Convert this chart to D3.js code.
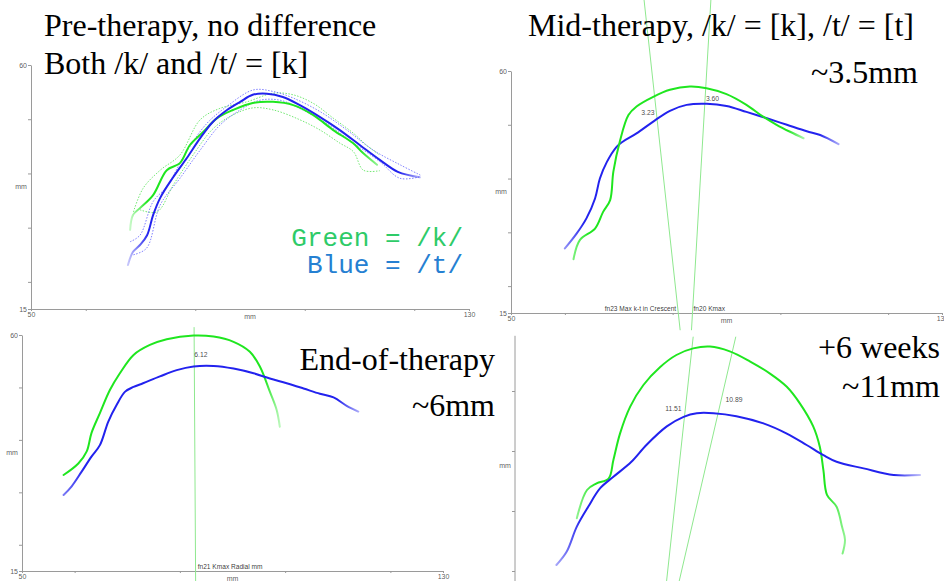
<!DOCTYPE html>
<html>
<head>
<meta charset="utf-8">
<script src="https://cdn.jsdelivr.net/npm/d3@7"></script>
<style>
body { margin: 0; background: #fff; }
svg { display: block; }
.small { fill-opacity: 0.99; }
</style>
</head>
<body>
<div id="chart-area"></div>
<script>
// SVG Size
let width = 944,
	height = 581;

// axis ticks (mm)
const xTicks = [50, 60, 80, 100, 120, 130];
const xTickLabels = [50, 130];
const yTicks = [15, 20, 30, 40, 50, 60];
const yTickLabels = [15, 60];

// panel 1: pre-therapy, mean curves and dotted spread
const p1Green = [[68.1,29.6],[68.6,32.3],[69.9,33.6],[72.3,36.0],[74.8,40.6],[77.2,41.9],[79.0,45.2],[81.4,47.6],[84.0,50.2],[86.9,51.7],[90.5,53.0],[94.2,53.2],[97.9,52.6],[101.5,50.8],[105.2,48.0],[108.8,45.6],[110.6,43.8],[113.2,41.6]];
const p1Blue = [[67.7,23.1],[68.6,25.5],[69.9,26.8],[71.2,28.6],[72.3,32.3],[73.6,35.5],[75.9,39.2],[78.5,42.9],[80.9,46.5],[83.2,49.5],[85.8,51.7],[88.2,53.2],[90.5,54.5],[93.1,54.7],[96.0,54.1],[99.1,52.6],[102.8,50.4],[106.4,48.0],[110.1,45.2],[113.7,42.5],[117.0,40.3],[121.0,39.3]];
const p1GreenHi = [[68.7,32.9],[70.5,37.3],[73.6,40.6],[77.2,43.4],[80.9,49.9],[84.5,52.0],[89.4,53.2],[94.3,54.8],[97.9,54.5],[101.6,52.9],[105.2,50.2],[108.9,47.4],[111.3,45.2],[113.7,43.4]];
const p1GreenLo = [[69.9,33.3],[73.0,32.9],[76.0,37.9],[79.6,43.4],[83.3,48.3],[86.9,50.8],[90.6,52.1],[94.3,51.7],[99.1,49.9],[102.8,48.0],[106.4,45.6],[108.9,44.0],[110.7,40.6],[113.7,40.5]];
const p1BlueHi = [[68.1,27.4],[69.9,28.6],[72.3,34.8],[74.8,37.6],[78.4,44.0],[82.1,49.2],[85.7,52.3],[90.6,55.4],[94.3,55.1],[97.9,53.9],[102.8,51.4],[107.7,48.0],[112.5,44.3],[117.4,41.6],[121.1,39.7]];
const p1BlueLo = [[68.7,25.0],[71.1,26.2],[73.6,34.2],[77.2,39.1],[80.9,44.3],[84.5,48.9],[88.2,51.7],[91.8,53.5],[95.5,53.5],[99.1,52.0],[104.0,49.2],[108.9,45.6],[113.7,42.2],[117.4,39.1],[121.1,39.4]];

// panel 2: mid-therapy
const p2Green = [[61.6,25.0],[62.8,28.6],[65.6,30.7],[67.1,33.8],[68.4,36.0],[69.0,41.3],[70.2,46.9],[71.8,51.8],[73.3,53.4],[76.4,55.2],[79.5,56.5],[83.2,57.1],[86.3,56.8],[90.0,55.7],[93.7,53.7],[96.8,51.5],[99.3,50.0],[101.8,48.7],[104.3,47.5]];
const p2Blue = [[60.0,27.0],[62.2,29.8],[64.0,32.6],[65.6,36.3],[66.5,40.0],[67.8,43.1],[69.6,45.9],[70.8,46.9],[73.3,48.4],[76.4,50.6],[79.5,52.6],[82.6,53.7],[86.3,53.9],[90.0,53.5],[93.7,52.4],[97.5,51.2],[101.2,50.0],[104.9,48.8],[107.4,48.1],[110.8,46.4]];
const p2Lines = [
	{label: "fn23 Max k-t in Crescent", from: [74.7, 73.2], to: [81.4, 11.8]},
	{label: "fn20 Kmax", from: [87.1, 73.2], to: [83.5, 11.8]}
];
const p2Notes = [{text: "3.23", x: 75.4, y: 52.3}, {text: "3.60", x: 87.4, y: 54.9}];

// panel 3: end-of-therapy
const p3Green = [[57.9,33.3],[60.7,35.5],[62.3,37.8],[63.2,41.3],[64.8,45.1],[66.7,49.5],[68.6,52.7],[71.2,56.2],[74.3,58.1],[77.5,59.2],[82.6,59.9],[86.4,59.7],[90.2,58.7],[93.3,56.8],[95.2,54.0],[97.1,49.2],[98.4,45.7],[99.0,42.5]];
const p3Blue = [[57.9,29.5],[59.4,31.1],[61.3,33.9],[63.2,36.8],[64.8,39.0],[66.4,43.5],[68.0,46.7],[69.6,49.2],[71.2,50.1],[73.0,50.8],[76.2,52.1],[79.4,53.3],[82.6,54.0],[86.4,54.1],[90.2,53.6],[94.0,52.7],[97.1,51.7],[100.3,50.8],[103.5,49.8],[106.6,48.8],[109.2,48.1],[111.7,46.5],[113.9,45.4]];
const p3Lines = [{label: "fn21 Kmax Radial mm", from: [82.7, 61.5], to: [83.0, 12.0]}];
const p3Notes = [{text: "6.12", x: 84.0, y: 56.3}];

// panel 4: +6 weeks
const p4Green = [[60.3,28.8],[62.0,33.5],[63.6,34.6],[65.6,35.4],[66.4,38.5],[67.5,42.9],[69.2,47.4],[71.4,51.0],[74.2,54.0],[76.9,56.0],[79.7,57.1],[82.5,57.4],[85.8,56.6],[89.2,54.9],[92.5,52.9],[95.3,50.7],[97.5,47.9],[99.7,44.1],[100.8,40.7],[101.4,36.8],[102.0,32.7],[103.6,30.7],[104.5,27.4],[105.0,25.2],[104.6,22.9]];
const p4Blue = [[56.9,21.0],[58.6,23.2],[60.3,27.4],[62.2,30.7],[64.2,33.8],[66.4,35.7],[69.4,38.2],[71.9,41.0],[75.3,44.1],[78.1,45.7],[80.3,46.3],[83.1,46.3],[86.9,45.8],[91.4,44.6],[95.3,42.9],[98.6,41.0],[101.4,39.3],[103.6,38.2],[108.1,37.1],[113.1,36.0],[117.5,36.0]];
const p4Lines = [{label: "", from: [79.7, 59.05], to: [74.9, 15]}, {label: "", from: [86.8, 59.05], to: [76.6, 15]}];
const p4Notes = [{text: "11.51", x: 76.4, y: 47.1}, {text: "10.89", x: 86.5, y: 48.5}];

// slide texts
const p1Title = ["Pre-therapy, no difference", "Both /k/ and /t/ = [k]"];
const p2Title = ["Mid-therapy, /k/ = [k], /t/ = [t]", "~3.5mm"];
const p3Title = ["End-of-therapy", "~6mm"];
const p4Title = ["+6 weeks", "~11mm"];
const legend = ["Green = /k/", "Blue = /t/"];

const GREEN = "#1fe61f", BLUE = "#2222ee", REF = "#8fe88f";
const axisFont = "'Liberation Sans', Arial, sans-serif";
const serif = "'Liberation Serif', 'Times New Roman', serif";

let svg = d3.select("#chart-area")
	.append("svg")
	.attr("width", width)
	.attr("height", height)
	.style("background", "#fff");

let defs = svg.append("defs");

// fading ends like the original screenshots
function fadeGradient(id, color, a0, a1) {
	let gr = defs.append("linearGradient").attr("id", id)
		.attr("x1", "0").attr("x2", "1").attr("y1", "0").attr("y2", "0");
	gr.append("stop").attr("offset", "0").attr("stop-color", color).attr("stop-opacity", a0);
	gr.append("stop").attr("offset", "0.07").attr("stop-color", color).attr("stop-opacity", 1);
	gr.append("stop").attr("offset", "0.93").attr("stop-color", color).attr("stop-opacity", 1);
	gr.append("stop").attr("offset", "1").attr("stop-color", color).attr("stop-opacity", a1);
	return "url(#" + id + ")";
}

function panel(cfg) {
	let x = d3.scaleLinear().domain([50, 130]).range(cfg.xr);
	let y = d3.scaleLinear().domain([15, 60]).range(cfg.yr);
	let g = svg.append("g");

	// y axis
	let yAxis = d3.axisLeft(y)
		.tickValues(cfg.yTicks || yTicks)
		.tickSize(3).tickSizeOuter(0).tickPadding(1)
		.tickFormat(d => cfg.labels && yTickLabels.includes(d) ? d : "");
	let ya = g.append("g")
		.attr("transform", "translate(" + cfg.xr[0] + ",0)")
		.call(yAxis);
	if (cfg.yTop) ya.select(".domain").attr("d", "M0," + y(cfg.yTop) + "V" + cfg.yr[0]);

	g.append("text")
		.attr("class", "small")
		.attr("x", cfg.xr[0] - 10)
		.attr("y", (cfg.yr[0] + cfg.yr[1]) / 2)
		.attr("dy", "0.35em")
		.attr("text-anchor", "middle")
		.attr("font-size", 7).attr("font-family", axisFont).attr("fill", "#555")
		.text("mm");

	// x axis
	if (cfg.xAxis) {
		let xAxis = d3.axisBottom(x)
			.tickValues(xTicks)
			.tickSize(2).tickSizeOuter(0).tickPadding(1)
			.tickFormat(d => xTickLabels.includes(d) ? d : "");
		g.append("g")
			.attr("transform", "translate(0," + cfg.yr[0] + ")")
			.call(xAxis);
		g.append("text")
			.attr("class", "small")
			.attr("x", (cfg.xr[0] + cfg.xr[1]) / 2)
			.attr("y", cfg.yr[0] + 8)
			.attr("dy", "0.35em")
			.attr("text-anchor", "middle")
			.attr("font-size", 7).attr("font-family", axisFont).attr("fill", "#555")
			.text("mm");
	}

	g.selectAll(".domain, .tick line").attr("stroke", "#9a9a9a");
	g.selectAll(".tick text").attr("class", "small").attr("fill", "#555").attr("font-size", 7).attr("font-family", axisFont);

	let line = d3.line()
		.x(d => x(d[0]))
		.y(d => y(d[1]))
		.curve(d3.curveCatmullRom.alpha(0.5));

	// reference lines
	(cfg.refs || []).forEach(r => {
		g.append("line")
			.attr("x1", x(r.from[0])).attr("y1", y(r.from[1]))
			.attr("x2", x(r.to[0])).attr("y2", y(r.to[1]))
			.attr("stroke", REF).attr("stroke-width", 1);
	});

	// dotted spread
	(cfg.dotted || []).forEach(s => {
		g.append("path")
			.datum(s.data)
			.attr("d", line)
			.attr("fill", "none")
			.attr("stroke", s.color)
			.attr("stroke-width", 1)
			.attr("stroke-opacity", 0.75)
			.attr("stroke-dasharray", "1.5,1.5");
	});

	// curves
	cfg.curves.forEach((c, i) => {
		g.append("path")
			.datum(c.data)
			.attr("d", line)
			.attr("fill", "none")
			.attr("stroke", fadeGradient(cfg.id + "c" + i, c.color, c.fade[0], c.fade[1]))
			.attr("stroke-width", 2)
			.attr("stroke-linecap", "round");
	});

	// reference line captions
	(cfg.refs || []).forEach(r => {
		if (!r.label) return;
		g.append("text")
			.attr("class", "small")
			.attr("x", x(r.to[0]) + (r.anchor === "end" ? -4 : 2))
			.attr("y", cfg.yr[0] - 2)
			.attr("text-anchor", r.anchor || "start")
			.attr("font-size", 6.6).attr("font-family", axisFont).attr("fill", "#333")
			.text(r.label);
	});

	// value notes
	(cfg.notes || []).forEach(n => {
		g.append("text")
			.attr("class", "small")
			.attr("x", x(n.x)).attr("y", y(n.y))
			.attr("dy", "0.35em")
			.attr("text-anchor", "middle")
			.attr("font-size", 6.8).attr("font-family", axisFont).attr("fill", "#444")
			.text(n.text);
	});
}

panel({
	id: "p1", xr: [31, 469], yr: [309, 65], xAxis: true, labels: true,
	dotted: [
		{data: p1GreenHi, color: "#44e044"}, {data: p1GreenLo, color: "#44e044"},
		{data: p1BlueHi, color: "#5555ff"}, {data: p1BlueLo, color: "#5555ff"}
	],
	curves: [
		{data: p1Green, color: GREEN, fade: [0.25, 0.5]},
		{data: p1Blue, color: BLUE, fade: [0.25, 0.35]}
	]
});

panel({
	id: "p2", xr: [511, 942], yr: [313, 71], xAxis: true, labels: true,
	refs: [
		Object.assign({anchor: "end"}, p2Lines[0]),
		p2Lines[1]
	],
	notes: p2Notes,
	curves: [
		{data: p2Blue, color: BLUE, fade: [0.5, 0.4]},
		{data: p2Green, color: GREEN, fade: [0.6, 0.4]}
	]
});

panel({
	id: "p3", xr: [22, 443], yr: [571, 335], xAxis: true, labels: true,
	refs: p3Lines,
	notes: p3Notes,
	curves: [
		{data: p3Green, color: GREEN, fade: [1, 0.3]},
		{data: p3Blue, color: BLUE, fade: [0.6, 0.4]}
	]
});

panel({
	id: "p4", xr: [515, 995], yr: [601, 331], xAxis: false, labels: false,
	yTicks: [20, 30, 40, 50], yTop: 59.2,
	refs: p4Lines,
	notes: p4Notes,
	curves: [
		{data: p4Green, color: GREEN, fade: [0.5, 0.5]},
		{data: p4Blue, color: BLUE, fade: [0.4, 0.3]}
	]
});

// slide texts
function titleText(str, x, y, anchor) {
	svg.append("text")
		.attr("x", x).attr("y", y)
		.attr("text-anchor", anchor)
		.attr("font-family", serif)
		.attr("font-size", 32)
		.attr("fill", "#000")
		.text(str);
}
titleText(p1Title[0], 44, 36, "start");
titleText(p1Title[1], 44, 74, "start");
titleText(p2Title[0], 528, 36, "start");
titleText(p2Title[1], 918, 83, "end");
titleText(p3Title[0], 495, 370, "end");
titleText(p3Title[1], 495, 416, "end");
titleText(p4Title[0], 940, 358, "end");
titleText(p4Title[1], 940, 397, "end");

svg.selectAll(".legend")
	.data(legend)
	.enter()
	.append("text")
	.attr("class", "legend")
	.attr("x", 463)
	.attr("y", (d, i) => 246 + i * 27)
	.attr("text-anchor", "end")
	.attr("font-family", "'Liberation Mono', 'Courier New', monospace")
	.attr("font-size", 26)
	.attr("fill", (d, i) => i === 0 ? "#2ecb68" : "#2580d2")
	.text(d => d);
</script>
</body>
</html>
